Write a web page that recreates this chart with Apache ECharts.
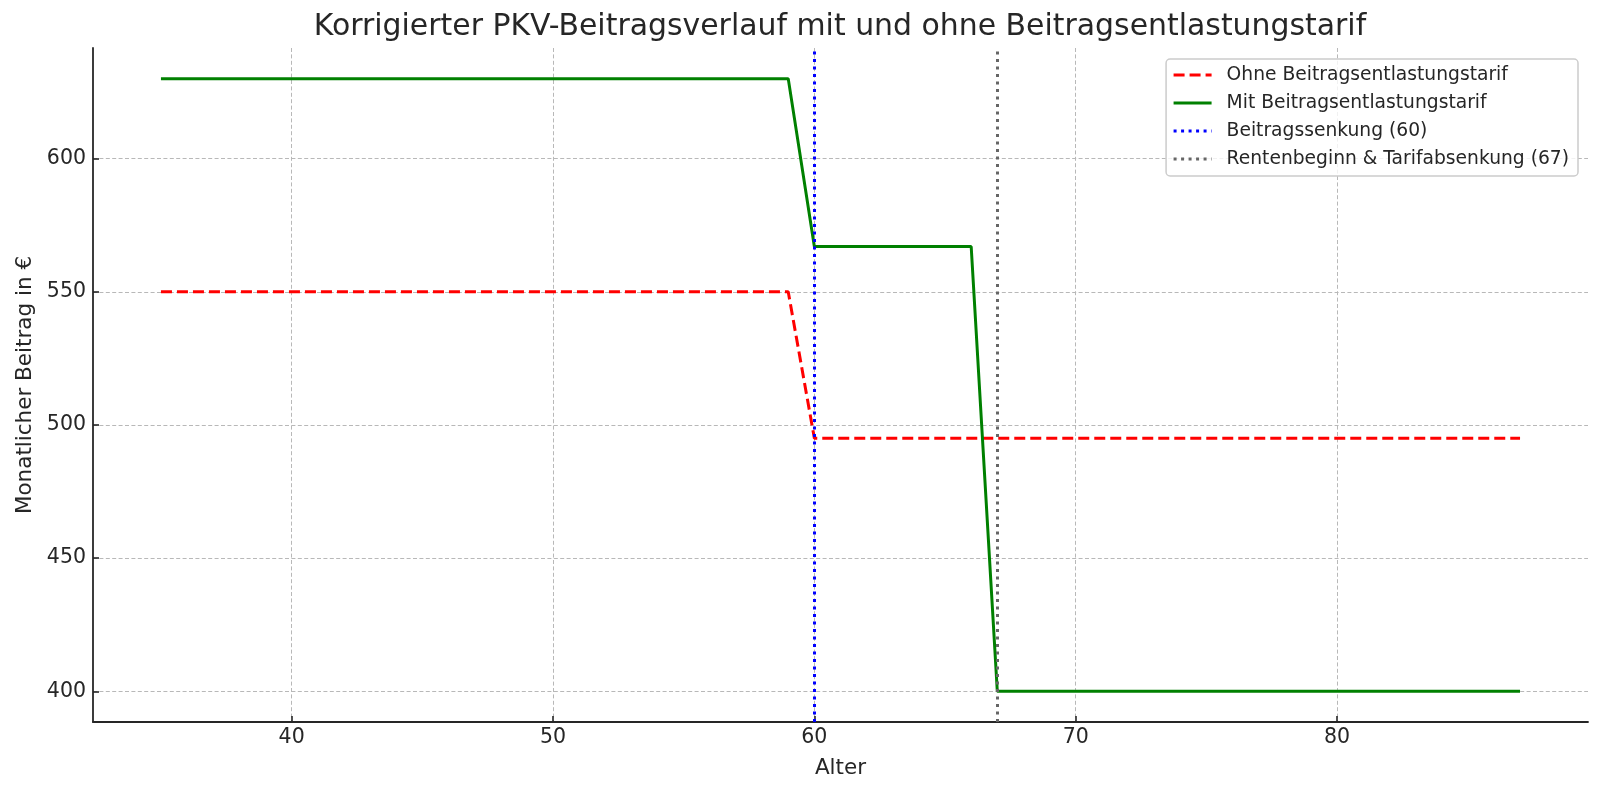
<!DOCTYPE html>
<html>
<head>
<meta charset="utf-8">
<script src="https://cdn.jsdelivr.net/npm/echarts@6/dist/echarts.min.js"></script>
<style>
html,body{margin:0;padding:0;background:#fff;}
#chart{width:1600px;height:794px;}
</style>
</head>
<body>
<div id="chart"></div>
<script>
// ---- data ----
const ages = [35,36,37,38,39,40,41,42,43,44,45,46,47,48,49,50,51,52,53,54,55,56,57,58,59,60,61,62,63,64,65,66,67,68,69,70,71,72,73,74,75,76,77,78,79,80,81,82,83,84,85,86,87];
const ohneValues = [550,550,550,550,550,550,550,550,550,550,550,550,550,550,550,550,550,550,550,550,550,550,550,550,550,
                    495,495,495,495,495,495,495,495,495,495,495,495,495,495,495,495,495,495,495,495,495,495,495,495,495,495,495,495];
const mitValues = [630,630,630,630,630,630,630,630,630,630,630,630,630,630,630,630,630,630,630,630,630,630,630,630,630,
                   567,567,567,567,567,567,567,
                   400,400,400,400,400,400,400,400,400,400,400,400,400,400,400,400,400,400,400,400,400];
const xTicks = [40, 50, 60, 70, 80];
const yTicks = [400, 450, 500, 550, 600];
const xRange = [32.4, 89.6];
const yRange = [388.5, 641.5];
const senkungAge = 60;
const rentenAge = 67;
const seriesNames = ['Ohne Beitragsentlastungstarif', 'Mit Beitragsentlastungstarif', 'Beitragssenkung (60)', 'Rentenbeginn & Tarifabsenkung (67)'];

const font = 'DejaVu Sans';
const txt = '#262626';
const gridLine = {show: true, lineStyle: {color: '#b8b8b8', type: [4, 2.4], width: 1}};

const chart = echarts.init(document.getElementById('chart'), null, {renderer: 'canvas'});
chart.setOption({
  backgroundColor: '#fff',
  animation: false,
  title: {
    text: 'Korrigierter PKV-Beitragsverlauf mit und ohne Beitragsentlastungstarif',
    left: 840, top: 12, textAlign: 'center', padding: 0,
    textStyle: {fontFamily: font, fontSize: 29.9, fontWeight: 'normal', color: txt}
  },
  legend: {
    orient: 'vertical',
    right: 22, top: 59,
    padding: [6, 9, 7, 6],
    itemGap: 8,
    itemWidth: 38, itemHeight: 20,
    backgroundColor: 'rgba(255,255,255,0.8)',
    borderColor: '#cccccc', borderWidth: 1.5, borderRadius: 4,
    itemStyle: {opacity: 0},
    lineStyle: {width: 3},
    textStyle: {fontFamily: font, fontSize: 18.7, color: txt, lineHeight: 20, padding: [0, 0, 0, 10]},
    data: seriesNames
  },
  grid: {left: 93, right: 12, top: 48, bottom: 72},
  xAxis: {
    type: 'value', min: xRange[0], max: xRange[1],
    name: 'Alter', nameLocation: 'middle', nameGap: 35.5,
    nameTextStyle: {fontFamily: font, fontSize: 21.5, color: txt},
    axisLine: {show: true, onZero: false, lineStyle: {color: '#262626', width: 1.8}},
    axisTick: {show: true, inside: true, length: 6, customValues: xTicks, lineStyle: {color: '#262626', width: 1.6}},
    axisLabel: {customValues: xTicks, fontFamily: font, fontSize: 20.5, color: txt, margin: 5},
    splitLine: gridLine
  },
  yAxis: {
    type: 'value', min: yRange[0], max: yRange[1],
    name: 'Monatlicher Beitrag in €', nameLocation: 'middle', nameGap: 55.5,
    nameTextStyle: {fontFamily: font, fontSize: 21.5, color: txt},
    axisLine: {show: true, onZero: false, lineStyle: {color: '#262626', width: 1.8}},
    axisTick: {show: true, inside: true, length: 6, customValues: yTicks, lineStyle: {color: '#262626', width: 1.6}},
    axisLabel: {customValues: yTicks, fontFamily: font, fontSize: 20.5, color: txt, margin: 7},
    splitLine: gridLine
  },
  series: [
    {
      name: seriesNames[0], type: 'line', symbol: 'none', z: 3,
      data: ages.map((a, i) => [a, ohneValues[i]]),
      lineStyle: {color: '#ff0000', width: 3, type: [11, 5]},
      itemStyle: {color: '#ff0000'}
    },
    {
      name: seriesNames[1], type: 'line', symbol: 'none', z: 3,
      data: ages.map((a, i) => [a, mitValues[i]]),
      lineStyle: {color: '#008000', width: 3, type: 'solid'},
      itemStyle: {color: '#008000'}
    },
    {
      name: seriesNames[2], type: 'line', symbol: 'none', z: 4,
      data: [],
      lineStyle: {color: '#0000ff', width: 3, type: [3, 4.5]},
      itemStyle: {color: '#0000ff'},
      markLine: {
        silent: true, symbol: 'none', label: {show: false},
        lineStyle: {color: '#0000ff', width: 3, type: [3, 4.5]},
        data: [{xAxis: senkungAge}]
      }
    },
    {
      name: seriesNames[3], type: 'line', symbol: 'none', z: 4,
      data: [],
      lineStyle: {color: '#666666', width: 3, type: [3, 4.5]},
      itemStyle: {color: '#666666'},
      markLine: {
        silent: true, symbol: 'none', label: {show: false},
        lineStyle: {color: '#666666', width: 3, type: [3, 4.5]},
        data: [{xAxis: rentenAge}]
      }
    }
  ]
});
</script>
</body>
</html>
